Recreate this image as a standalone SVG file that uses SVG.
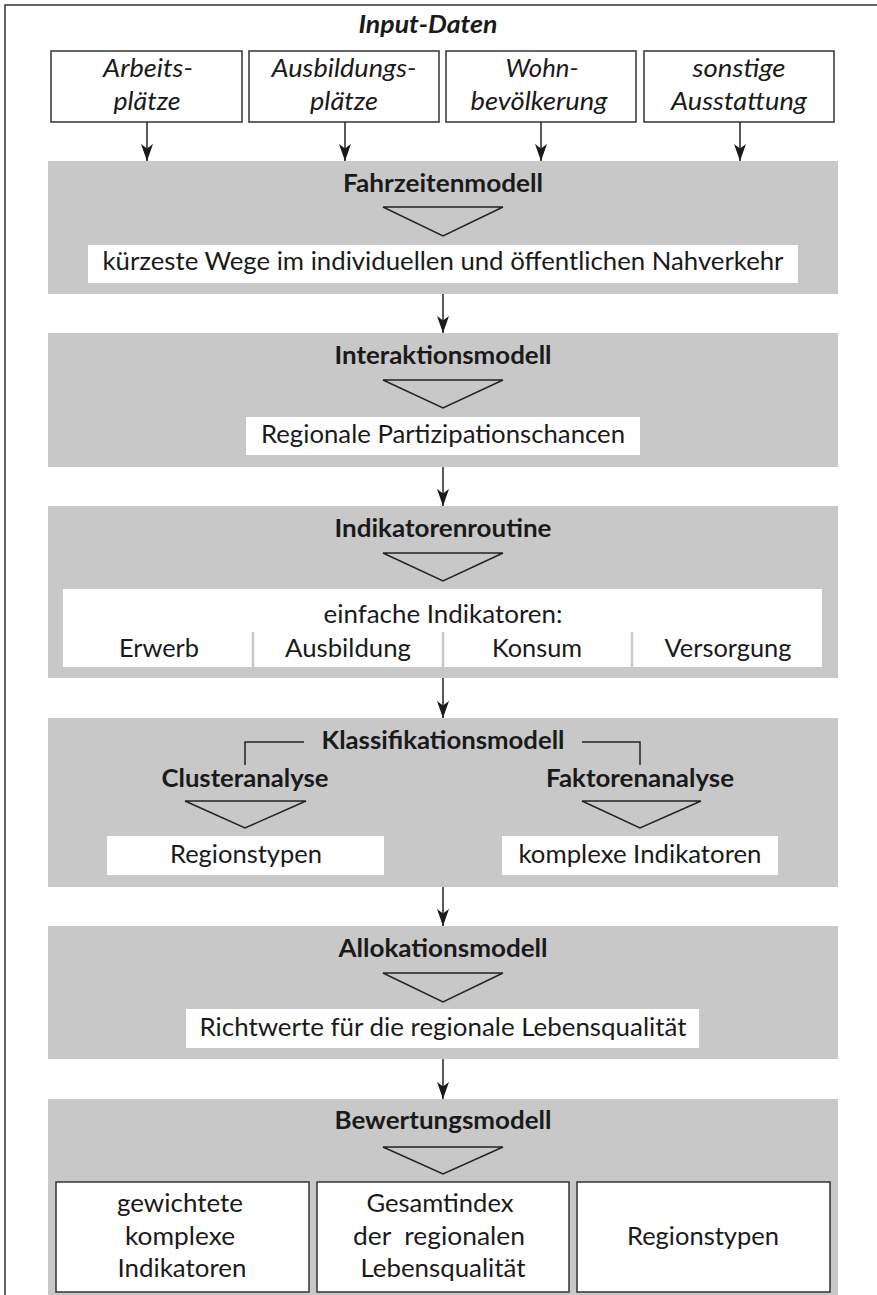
<svg xmlns="http://www.w3.org/2000/svg" width="877" height="1295" viewBox="0 0 877 1295">
<defs>
<style>
.band{fill:#c8c8c8}
.wbox{fill:#fff}
.sbox{fill:#fff;stroke:#333;stroke-width:1.5}
.tri{fill:none;stroke:#222;stroke-width:1.4;stroke-linejoin:miter}
.t{font-family:Lato,"Open Sans","Liberation Sans",sans-serif;font-size:25px;fill:#1a1a1a;text-anchor:middle}
.b{font-weight:bold}
.i{font-style:italic}
.line{fill:none;stroke:#222;stroke-width:1.5}
.sep{stroke:#c8c8c8;stroke-width:2.5}
.frame{fill:none;stroke:#333;stroke-width:1.5}
</style>
<marker id="ah" markerUnits="userSpaceOnUse" markerWidth="18" markerHeight="14" refX="17" refY="7" orient="auto" viewBox="0 0 18 14">
<path d="M0,1 L17,7 L0,13 L4.5,7 Z" fill="#1a1a1a"/>
</marker>
</defs>
<rect width="877" height="1295" fill="#fff"/>
<path class="frame" d="M5,1295 V5 H877"/>

<g id="input">
<text class="t b i" x="428" y="33" textLength="139" lengthAdjust="spacingAndGlyphs">Input-Daten</text>
</g>
<g id="in-arbeit">
<rect class="sbox" x="51" y="51" width="191" height="71"/>
<text class="t i" x="148" y="77" textLength="90" lengthAdjust="spacingAndGlyphs">Arbeits-</text>
<text class="t i" x="147" y="110" textLength="67" lengthAdjust="spacingAndGlyphs">plätze</text>
</g>
<g id="in-ausbildung">
<rect class="sbox" x="249" y="51" width="190" height="71"/>
<text class="t i" x="344" y="77" textLength="145" lengthAdjust="spacingAndGlyphs">Ausbildungs-</text>
<text class="t i" x="344" y="110" textLength="68" lengthAdjust="spacingAndGlyphs">plätze</text>
</g>
<g id="in-wohn">
<rect class="sbox" x="446" y="51" width="190" height="71"/>
<text class="t i" x="542" y="77" textLength="73" lengthAdjust="spacingAndGlyphs">Wohn-</text>
<text class="t i" x="539" y="110" textLength="137" lengthAdjust="spacingAndGlyphs">bevölkerung</text>
</g>
<g id="in-sonstige">
<rect class="sbox" x="644" y="51" width="190" height="71"/>
<text class="t i" x="739" y="77" textLength="93" lengthAdjust="spacingAndGlyphs">sonstige</text>
<text class="t i" x="739" y="110" textLength="136" lengthAdjust="spacingAndGlyphs">Ausstattung</text>
</g>

<g id="fahrzeit">
<rect class="band" x="48" y="161" width="790" height="133"/>
<text class="t b" x="443" y="192" textLength="200" lengthAdjust="spacingAndGlyphs">Fahrzeitenmodell</text>
<path class="tri" d="M383,207 H503 L443,236 Z"/>
<rect class="wbox" x="88" y="245" width="710" height="38"/>
<text class="t" x="443" y="270" textLength="681" lengthAdjust="spacingAndGlyphs">kürzeste Wege im individuellen und öffentlichen Nahverkehr</text>
</g>

<g id="interaktion">
<rect class="band" x="48" y="333" width="790" height="134"/>
<text class="t b" x="443" y="364" textLength="217" lengthAdjust="spacingAndGlyphs">Interaktionsmodell</text>
<path class="tri" d="M383,380 H503 L443,408 Z"/>
<rect class="wbox" x="246" y="417" width="394" height="38"/>
<text class="t" x="443" y="443" textLength="364" lengthAdjust="spacingAndGlyphs">Regionale Partizipationschancen</text>
</g>

<g id="indikatoren">
<rect class="band" x="48" y="506" width="790" height="172"/>
<text class="t b" x="443" y="537" textLength="217" lengthAdjust="spacingAndGlyphs">Indikatorenroutine</text>
<path class="tri" d="M383,553 H503 L443,581 Z"/>
<rect class="wbox" x="63" y="589" width="759" height="78"/>
<text class="t" x="443" y="623" textLength="239" lengthAdjust="spacingAndGlyphs">einfache Indikatoren:</text>
<line class="sep" x1="253" y1="632" x2="253" y2="667"/>
<line class="sep" x1="443" y1="632" x2="443" y2="667"/>
<line class="sep" x1="632" y1="632" x2="632" y2="667"/>
<text class="t" x="159" y="657" textLength="80" lengthAdjust="spacingAndGlyphs">Erwerb</text>
<text class="t" x="348" y="657" textLength="126" lengthAdjust="spacingAndGlyphs">Ausbildung</text>
<text class="t" x="537" y="657" textLength="90" lengthAdjust="spacingAndGlyphs">Konsum</text>
<text class="t" x="728" y="657" textLength="127" lengthAdjust="spacingAndGlyphs">Versorgung</text>
</g>

<g id="klassifikation">
<rect class="band" x="48" y="718" width="790" height="169"/>
<text class="t b" x="443" y="749" textLength="243" lengthAdjust="spacingAndGlyphs">Klassifikationsmodell</text>
<path class="line" d="M304,742 H245 V765"/>
<path class="line" d="M582,742 H640 V765"/>
<text class="t b" x="245" y="787" textLength="167" lengthAdjust="spacingAndGlyphs">Clusteranalyse</text>
<text class="t b" x="640" y="787" textLength="188" lengthAdjust="spacingAndGlyphs">Faktorenanalyse</text>
<path class="tri" d="M185,801 H306 L245,828 Z"/>
<path class="tri" d="M582,801 H701 L640,828 Z"/>
<rect class="wbox" x="107" y="836" width="277" height="39"/>
<text class="t" x="246" y="863" textLength="152" lengthAdjust="spacingAndGlyphs">Regionstypen</text>
<rect class="wbox" x="502" y="836" width="276" height="39"/>
<text class="t" x="640" y="863" textLength="243" lengthAdjust="spacingAndGlyphs">komplexe Indikatoren</text>
</g>

<g id="allokation">
<rect class="band" x="48" y="926" width="790" height="133"/>
<text class="t b" x="443" y="957" textLength="209" lengthAdjust="spacingAndGlyphs">Allokationsmodell</text>
<path class="tri" d="M383,973 H503 L443,1002 Z"/>
<rect class="wbox" x="186" y="1009" width="513" height="39"/>
<text class="t" x="443" y="1036" textLength="487" lengthAdjust="spacingAndGlyphs">Richtwerte für die regionale Lebensqualität</text>
</g>

<g id="bewertung">
<rect class="band" x="48" y="1099" width="790" height="196"/>
<text class="t b" x="443" y="1129" textLength="217" lengthAdjust="spacingAndGlyphs">Bewertungsmodell</text>
<path class="tri" d="M383,1147 H503 L443,1174 Z"/>
<rect class="sbox" x="56" y="1182" width="253" height="110"/>
<text class="t" x="180" y="1212" textLength="126" lengthAdjust="spacingAndGlyphs">gewichtete</text>
<text class="t" x="180" y="1245" textLength="110" lengthAdjust="spacingAndGlyphs">komplexe</text>
<text class="t" x="182" y="1277" textLength="129" lengthAdjust="spacingAndGlyphs">Indikatoren</text>
<rect class="sbox" x="317" y="1182" width="252" height="110"/>
<text class="t" x="440" y="1212" textLength="147" lengthAdjust="spacingAndGlyphs">Gesamtindex</text>
<text class="t" x="439" y="1245" textLength="172" lengthAdjust="spacingAndGlyphs" xml:space="preserve">der  regionalen</text>
<text class="t" x="443" y="1277" textLength="165" lengthAdjust="spacingAndGlyphs">Lebensqualität</text>
<rect class="sbox" x="577" y="1182" width="253" height="110"/>
<text class="t" x="703" y="1245" textLength="152" lengthAdjust="spacingAndGlyphs">Regionstypen</text>
</g>

<g id="connectors">
<line class="line" x1="147" y1="122" x2="147" y2="161" marker-end="url(#ah)"/>
<line class="line" x1="345" y1="122" x2="345" y2="161" marker-end="url(#ah)"/>
<line class="line" x1="541" y1="122" x2="541" y2="161" marker-end="url(#ah)"/>
<line class="line" x1="740" y1="122" x2="740" y2="161" marker-end="url(#ah)"/>
<line class="line" x1="443" y1="294" x2="443" y2="333" marker-end="url(#ah)"/>
<line class="line" x1="443" y1="467" x2="443" y2="506" marker-end="url(#ah)"/>
<line class="line" x1="443" y1="678" x2="443" y2="718" marker-end="url(#ah)"/>
<line class="line" x1="443" y1="887" x2="443" y2="926" marker-end="url(#ah)"/>
<line class="line" x1="443" y1="1059" x2="443" y2="1099" marker-end="url(#ah)"/>
</g>
</svg>
